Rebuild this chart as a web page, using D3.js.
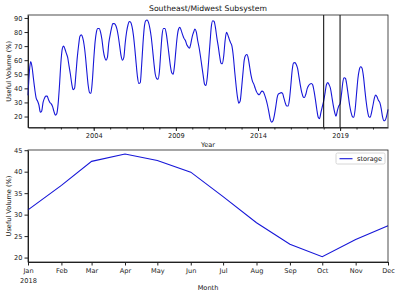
<!DOCTYPE html>
<html>
<head>
<meta charset="utf-8">
<script src="https://cdn.jsdelivr.net/npm/d3@7"></script>
<style>
  body { margin: 0; background: #fff; }
  svg { display: block; font-family: "DejaVu Sans", sans-serif; }
  .axis path, .axis line { stroke: #222; }
  .axis text { fill: #222; font-size: 6.6px; font-family: "DejaVu Sans", sans-serif; }
</style>
</head>
<body>
<div id="chart"></div>
<script>
"use strict";

// monthly useful volume (%), Jan 2000 .. Dec 2021
var startYear = 2000;
var storage = [
  35, 52, 59, 55, 47, 39, 33, 31, 28, 23, 24, 30,          // 2000
  33, 34.5, 34.5, 32, 30, 29, 27, 23.5, 21, 22, 29, 42,    // 2001
  58, 68, 70, 68, 65, 62, 56, 50, 43, 39, 40, 50,          // 2002
  62, 71, 77, 78, 76, 71, 63, 52, 42, 37, 36.5, 45,        // 2003
  60, 73, 80, 82.5, 82.5, 80, 75, 67, 62, 60, 62, 72,      // 2004
  78, 83, 86, 86, 85, 82, 77, 70, 63, 60, 62, 72,          // 2005
  80, 85, 87.5, 87, 84, 78, 69, 58, 48, 43.5, 44, 56,      // 2006
  72, 84, 88, 88.5, 87, 83, 77, 68, 58, 50, 47, 46.5,      // 2007
  52, 66, 78, 82.5, 82.5, 79, 72, 64, 56, 51, 50, 56,      // 2008
  67, 77, 82, 83.4, 81, 78, 75.5, 74, 71, 69.5, 68.5, 72,  // 2009
  77, 80, 82.2, 80, 74, 69, 63, 56, 49, 43, 42, 48,        // 2010
  60, 73, 84, 88, 87.5, 83, 76, 70, 63, 58, 57.5, 63,      // 2011
  74, 79.8, 78, 75, 72.5, 70, 63, 52, 42, 34, 29.5, 31,    // 2012
  40, 51, 60, 63.5, 64, 61, 55, 49, 45, 43, 40, 37.5,      // 2013
  36, 35.5, 37, 38, 37.5, 35, 32, 28, 23, 18, 16, 17,      // 2014
  21, 27, 33, 36, 36.5, 37, 36.5, 33, 29.5, 27.5, 27.5, 32,// 2015
  42, 53, 58, 58.3, 57, 54, 48, 42, 37, 34, 33.5, 36,      // 2016
  40, 42, 43, 43.5, 42.5, 38, 32, 25, 19.5, 18.5, 23, 27,  // 2017
  31.1, 36.8, 42.4, 44.1, 42.6, 39.9, 34.2, 28.1, 23.1, 20.2, 24.2, 27.4, // 2018
  29, 36, 44, 47.5, 47, 42, 35, 28, 23, 20, 19.5, 25,      // 2019
  36, 47, 53, 55.3, 54.5, 49, 40, 31, 24, 20, 19.5, 23,    // 2020
  28, 33, 35.3, 34, 31.5, 30, 26, 20, 17, 17.5, 20.5, 25   // 2021
];
var majorYears = [2004, 2009, 2014, 2019];
var markerDates = ["2018-01-01", "2018-12-31"];

// zoom on 2018
var monthLabels = ["Jan", "Feb", "Mar", "Apr", "May", "Jun", "Jul", "Aug", "Sep", "Oct", "Nov", "Dec"];
var storage2018 = [31.1, 36.8, 42.4, 44.1, 42.6, 39.9, 34.2, 28.1, 23.1, 20.2, 24.2, 27.4];
var topTicks = [20, 30, 40, 50, 60, 70, 80, 90];
var bottomTicks = [20, 25, 30, 35, 40, 45];

var W = 400, H = 295;
var left = 28, right = 388;
var lineColor = "#1616d8";

var svg = d3.select("#chart").append("svg")
  .attr("width", W).attr("height", H);

var parse = d3.timeParse("%Y-%m-%d");

/* ---------- top panel ---------- */
var top1 = 15, bot1 = 127.5;
var series = storage.map(function (v, i) {
  return { date: new Date(startYear, i, 1), value: v };
});

var x1 = d3.scaleTime()
  .domain([series[0].date, series[series.length - 1].date])
  .range([left, right]);
var y1 = d3.scaleLinear()
  .domain([12.2, 92.1])
  .range([bot1, top1]);

svg.append("line")
  .attr("x1", left).attr("x2", left).attr("y1", top1).attr("y2", bot1);

var xMinor = d3.range(startYear + 1, startYear + 22).map(function (y) { return new Date(y, 0, 1); });
svg.append("g").attr("class", "axis")
  .attr("transform", "translate(0," + bot1 + ")")
  .call(d3.axisBottom(x1).tickValues(xMinor).tickSize(2).tickFormat(""))
  .call(function (g) { g.select(".domain").remove(); });

svg.append("g").attr("class", "axis")
  .attr("transform", "translate(0," + bot1 + ")")
  .call(d3.axisBottom(x1)
    .tickValues(majorYears.map(function (y) { return new Date(y, 0, 1); }))
    .tickSize(3.5).tickPadding(2.5).tickSizeOuter(0)
    .tickFormat(d3.timeFormat("%Y")));

svg.append("g").attr("class", "axis")
  .attr("transform", "translate(" + left + ",0)")
  .call(d3.axisLeft(y1).tickValues(topTicks).tickSize(3.5).tickPadding(2).tickSizeOuter(0));

svg.append("path")
  .datum(series)
  .attr("fill", "none")
  .attr("stroke", lineColor)
  .attr("stroke-width", 1.1)
  .attr("stroke-linejoin", "round")
  .attr("d", d3.line()
    .curve(d3.curveMonotoneX)
    .x(function (d) { return x1(d.date); })
    .y(function (d) { return y1(d.value); }));

svg.selectAll(".marker")
  .data(markerDates)
  .enter()
  .append("line")
  .attr("x1", function (d) { return x1(parse(d)); })
  .attr("x2", function (d) { return x1(parse(d)); })
  .attr("y1", top1).attr("y2", bot1)
  .attr("stroke", "black").attr("stroke-width", 1);

svg.append("rect")
  .attr("x", left).attr("y", top1)
  .attr("width", right - left).attr("height", bot1 - top1)
  .attr("fill", "none").attr("stroke", "#222").attr("stroke-width", 0.8);

svg.append("text")
  .attr("x", (left + right) / 2).attr("y", 11)
  .attr("text-anchor", "middle")
  .style("font-size", "7.7px").attr("fill", "#111")
  .text("Southeast/Midwest Subsystem");

svg.append("text")
  .attr("x", (left + right) / 2).attr("y", 146.5)
  .attr("text-anchor", "middle")
  .style("font-size", "6.6px").attr("fill", "#111")
  .text("Year");

svg.append("text")
  .attr("transform", "translate(11," + (top1 + bot1) / 2 + ") rotate(-90)")
  .attr("text-anchor", "middle")
  .style("font-size", "6.6px").attr("fill", "#111")
  .text("Useful Volume (%)");

/* ---------- bottom panel ---------- */
var top2 = 150, bot2 = 262;
var months = storage2018.map(function (v, i) {
  return { date: new Date(2018, i, 1), value: v };
});

var x2 = d3.scaleTime()
  .domain([months[0].date, months[months.length - 1].date])
  .range([left, right]);
var y2 = d3.scaleLinear()
  .domain([18.97, 45.05])
  .range([bot2, top2]);

var xAxis2 = svg.append("g").attr("class", "axis")
  .attr("transform", "translate(0," + bot2 + ")")
  .call(d3.axisBottom(x2)
    .tickValues(months.map(function (d) { return d.date; }))
    .tickSize(3.5).tickPadding(2.5).tickSizeOuter(0)
    .tickFormat(function (d, i) { return monthLabels[i]; }));

xAxis2.selectAll(".tick")
  .filter(function (d, i) { return i === 0; })
  .append("text")
  .attr("y", 16).attr("dy", "0.71em")
  .attr("fill", "#222")
  .text("2018");

svg.append("g").attr("class", "axis")
  .attr("transform", "translate(" + left + ",0)")
  .call(d3.axisLeft(y2).tickValues(bottomTicks).tickSize(3.5).tickPadding(2).tickSizeOuter(0));

svg.append("path")
  .datum(months)
  .attr("fill", "none")
  .attr("stroke", lineColor)
  .attr("stroke-width", 1.1)
  .attr("d", d3.line()
    .x(function (d) { return x2(d.date); })
    .y(function (d) { return y2(d.value); }));

svg.append("rect")
  .attr("x", left).attr("y", top2)
  .attr("width", right - left).attr("height", bot2 - top2)
  .attr("fill", "none").attr("stroke", "#222").attr("stroke-width", 0.8);

// legend
var legend = svg.append("g").attr("transform", "translate(336,153)");
legend.append("rect")
  .attr("width", 49).attr("height", 11).attr("rx", 1.5)
  .attr("fill", "white").attr("stroke", "#ccc").attr("stroke-width", 0.8);
legend.append("line")
  .attr("x1", 3.5).attr("x2", 16.5).attr("y1", 5.7).attr("y2", 5.7)
  .attr("stroke", lineColor).attr("stroke-width", 1.1);
legend.append("text")
  .attr("x", 21).attr("y", 8)
  .style("font-size", "6.6px").attr("fill", "#111")
  .text("storage");

svg.append("text")
  .attr("x", (left + right) / 2).attr("y", 290)
  .attr("text-anchor", "middle")
  .style("font-size", "6.6px").attr("fill", "#111")
  .text("Month");

svg.append("text")
  .attr("transform", "translate(11," + (top2 + bot2) / 2 + ") rotate(-90)")
  .attr("text-anchor", "middle")
  .style("font-size", "6.6px").attr("fill", "#111")
  .text("Useful Volume (%)");
</script>
</body>
</html>
